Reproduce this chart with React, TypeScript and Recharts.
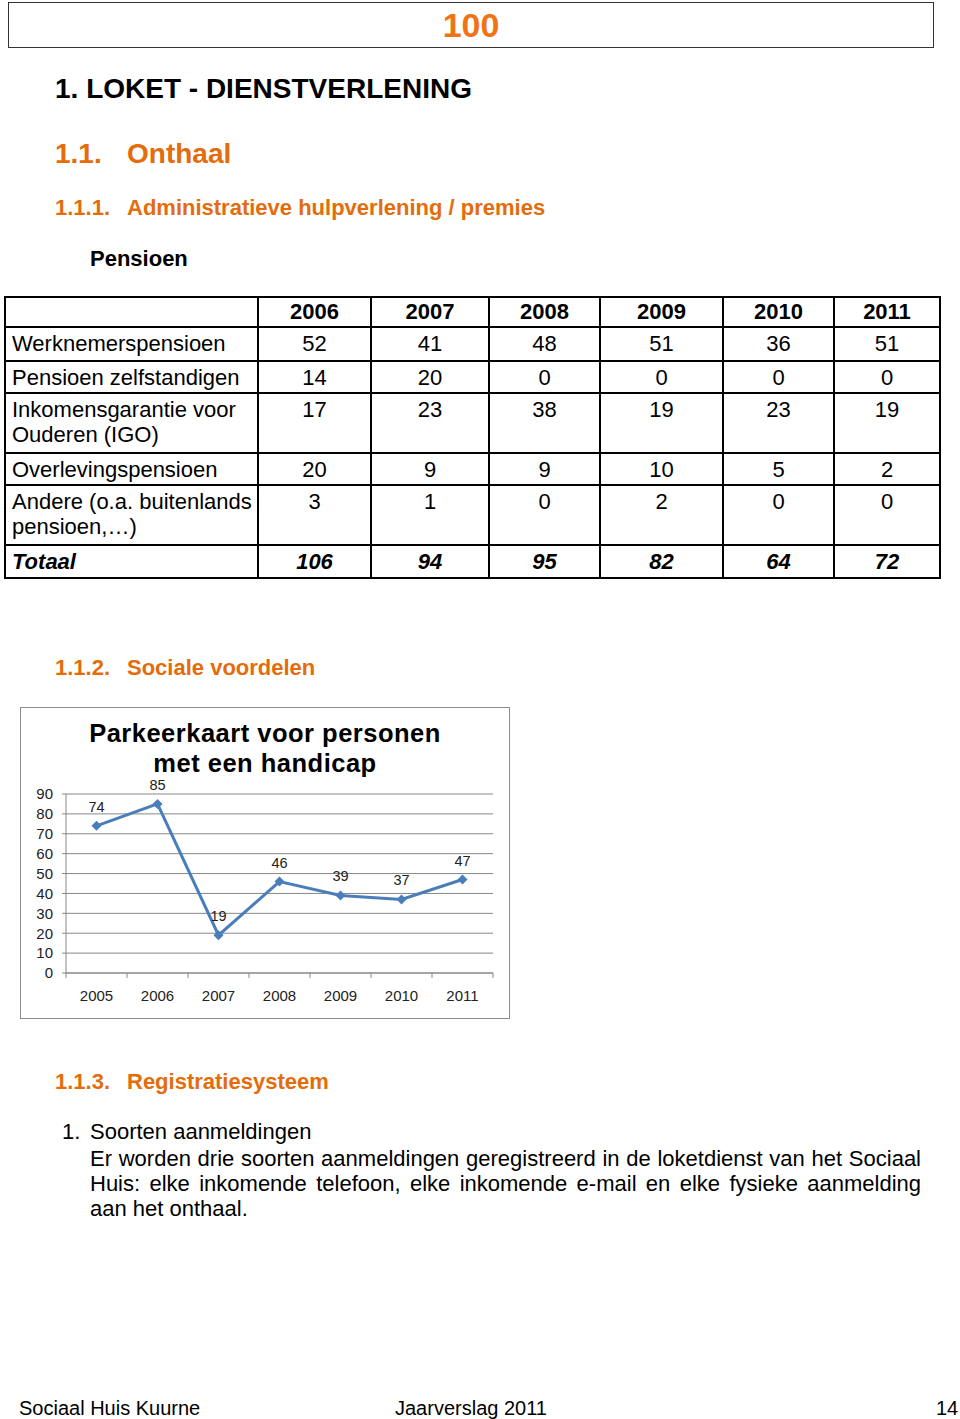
import React from "react";
import {
  CartesianGrid,
  LabelList,
  Line,
  LineChart,
  XAxis,
  YAxis,
} from "recharts";

// chart: Parkeerkaart voor personen met een handicap
const years = ["2005", "2006", "2007", "2008", "2009", "2010", "2011"];
const parkeerkaart = [74, 85, 19, 46, 39, 37, 47];
const yTicks = [0, 10, 20, 30, 40, 50, 60, 70, 80, 90];

// pensioen table
const tableYears = ["2006", "2007", "2008", "2009", "2010", "2011"];
const rowLabels = [
  ["Werknemerspensioen"],
  ["Pensioen zelfstandigen"],
  ["Inkomensgarantie voor", "Ouderen (IGO)"],
  ["Overlevingspensioen"],
  ["Andere (o.a. buitenlands", "pensioen,…)"],
];
const werknemers = [52, 41, 48, 51, 36, 51];
const zelfstandigen = [14, 20, 0, 0, 0, 0];
const igo = [17, 23, 38, 19, 23, 19];
const overleving = [20, 9, 9, 10, 5, 2];
const andere = [3, 1, 0, 2, 0, 0];
const totaal = [106, 94, 95, 82, 64, 72];

const FONT = '"Liberation Sans", Arial, sans-serif';
const ORANGE = "#E46C0A";
const BLUE = "#4A7EBB";
const GREY = "#878787";

const colX = [5, 258, 371, 489, 600, 723, 834, 940];
const rowY = [297, 327, 361, 393, 453, 485, 545, 578];

// half of one category band on the x axis (plot is 427px wide, 7 years)
const HALF_BAND = 30.5;

type TProps = {
  x: number;
  y: number;
  size: number;
  bold?: boolean;
  italic?: boolean;
  color?: string;
  children: React.ReactNode;
};

function T({ x, y, size, bold, italic, color, children }: TProps) {
  return (
    <div
      style={{
        position: "absolute",
        left: x,
        top: y - size * 0.6,
        fontSize: size,
        lineHeight: `${size * 1.2}px`,
        fontWeight: bold ? 700 : 400,
        fontStyle: italic ? "italic" : "normal",
        color: color ?? "#000",
        whiteSpace: "nowrap",
      }}
    >
      {children}
    </div>
  );
}

function Diamond(props: any) {
  const { cx, cy, index } = props;
  const r = 5;
  return (
    <path
      key={`d-${index}`}
      d={`M${cx},${cy - r}L${cx + r},${cy}L${cx},${cy + r}L${cx - r},${cy}Z`}
      fill={BLUE}
    />
  );
}

// year label plus small tick marks on the category boundaries
function YearTick(props: any) {
  const { x, y, payload, index, visibleTicksCount } = props;
  const axisY = y - 17;
  const last = index === visibleTicksCount - 1;
  return (
    <g>
      <line x1={x - HALF_BAND} x2={x - HALF_BAND} y1={axisY} y2={axisY + 5} stroke={GREY} />
      {last && <line x1={x + HALF_BAND} x2={x + HALF_BAND} y1={axisY} y2={axisY + 5} stroke={GREY} />}
      <text x={x} y={y} dy="0.71em" textAnchor="middle" fill="#222" fontSize={15}>
        {payload.value}
      </text>
    </g>
  );
}

function PensioenTable() {
  const rows = [werknemers, zelfstandigen, igo, overleving, andere];
  const top = rowY[0];
  const bottom = rowY[rowY.length - 1];
  const left = colX[0];
  const right = colX[colX.length - 1];
  return (
    <>
      {colX.map((x, i) => (
        <div
          key={`v${i}`}
          style={{ position: "absolute", left: x - 1, top: top - 1, width: 2, height: bottom - top + 2, background: "#000" }}
        />
      ))}
      {rowY.map((y, i) => (
        <div
          key={`h${i}`}
          style={{ position: "absolute", left: left - 1, top: y - 1, width: right - left + 2, height: 2, background: "#000" }}
        />
      ))}
      {tableYears.map((yr, c) => (
        <div
          key={`y${c}`}
          style={{
            position: "absolute",
            left: colX[c + 1],
            width: colX[c + 2] - colX[c + 1],
            top: rowY[0] + 2,
            lineHeight: "25px",
            fontSize: 22,
            fontWeight: 700,
            textAlign: "center",
          }}
        >
          {yr}
        </div>
      ))}
      {rows.map((vals, r) => (
        <React.Fragment key={`r${r}`}>
          <div
            style={{
              position: "absolute",
              left: colX[0] + 7,
              top: rowY[r + 1] + 4,
              lineHeight: "25px",
              fontSize: 22,
              whiteSpace: "nowrap",
            }}
          >
            {rowLabels[r].map((l, k) => (
              <div key={k}>{l}</div>
            ))}
          </div>
          {vals.map((v, c) => (
            <div
              key={`c${c}`}
              style={{
                position: "absolute",
                left: colX[c + 1],
                width: colX[c + 2] - colX[c + 1],
                top: rowY[r + 1] + 4,
                lineHeight: "25px",
                fontSize: 22,
                textAlign: "center",
              }}
            >
              {v}
            </div>
          ))}
        </React.Fragment>
      ))}
      <div
        style={{
          position: "absolute",
          left: colX[0] + 7,
          top: rowY[6] + 4,
          lineHeight: "25px",
          fontSize: 22,
          fontWeight: 700,
          fontStyle: "italic",
        }}
      >
        Totaal
      </div>
      {totaal.map((v, c) => (
        <div
          key={`t${c}`}
          style={{
            position: "absolute",
            left: colX[c + 1],
            width: colX[c + 2] - colX[c + 1],
            top: rowY[6] + 4,
            lineHeight: "25px",
            fontSize: 22,
            fontWeight: 700,
            fontStyle: "italic",
            textAlign: "center",
          }}
        >
          {v}
        </div>
      ))}
    </>
  );
}

function ParkeerChart() {
  const data = years.map((year, i) => ({ year, value: parkeerkaart[i] }));
  return (
    <div
      style={{
        position: "absolute",
        left: 20,
        top: 707,
        width: 488,
        height: 310,
        border: "1px solid #8c8c8c",
        background: "#fff",
      }}
    >
      <div
        style={{
          position: "absolute",
          left: 0,
          width: 488,
          top: 10,
          textAlign: "center",
          fontSize: 25.5,
          letterSpacing: 0.5,
          fontWeight: 700,
          lineHeight: "30px",
          color: "#000",
        }}
      >
        Parkeerkaart voor personen
        <br />
        met een handicap
      </div>
      <LineChart
        width={488}
        height={310}
        data={data}
        margin={{ top: 86, right: 16, bottom: 15, left: 5 }}
        style={{ position: "absolute", left: 0, top: 0 }}
      >
        <CartesianGrid vertical={false} stroke={GREY} />
        <XAxis
          dataKey="year"
          height={30}
          padding={{ left: HALF_BAND, right: HALF_BAND }}
          tickLine={false}
          tickSize={6}
          tickMargin={11}
          axisLine={{ stroke: GREY }}
          tick={YearTick}
          interval={0}
        />
        <YAxis
          width={40}
          domain={[0, 90]}
          ticks={yTicks}
          interval={0}
          tickSize={4}
          tickMargin={9}
          tickLine={{ stroke: GREY }}
          axisLine={{ stroke: GREY }}
          tick={{ fill: "#222", fontSize: 15 }}
        />
        <Line
          type="linear"
          dataKey="value"
          stroke={BLUE}
          strokeWidth={3}
          dot={Diamond}
          activeDot={false}
          isAnimationActive={false}
        >
          <LabelList dataKey="value" position="top" offset={14} fill="#222" fontSize={14.5} />
        </Line>
      </LineChart>
    </div>
  );
}

export default function App() {
  return (
    <div
      style={{
        position: "absolute",
        left: 0,
        top: 0,
        width: 960,
        height: 1419,
        background: "#fff",
        fontFamily: FONT,
        color: "#000",
        overflow: "hidden",
      }}
    >
      {/* header box */}
      <div
        style={{
          position: "absolute",
          left: 8,
          top: 2,
          width: 924,
          height: 44,
          border: "1.5px solid #333",
        }}
      />
      <div
        style={{
          position: "absolute",
          left: 8,
          width: 926,
          top: 25 - 20,
          lineHeight: "40px",
          fontSize: 34,
          fontWeight: 700,
          color: "#F07417",
          textAlign: "center",
        }}
      >
        100
      </div>

      <T x={55} y={89} size={28} bold>
        1. LOKET - DIENSTVERLENING
      </T>
      <T x={55} y={154} size={28} bold color={ORANGE}>1.1.</T>
      <T x={127} y={154} size={28} bold color={ORANGE}>Onthaal</T>
      <T x={55} y={208} size={22} bold color={ORANGE}>1.1.1.</T>
      <T x={127} y={208} size={22} bold color={ORANGE}>Administratieve hulpverlening / premies</T>
      <T x={90} y={259} size={22} bold>Pensioen</T>

      <PensioenTable />

      <T x={55} y={668} size={22} bold color={ORANGE}>1.1.2.</T>
      <T x={127} y={668} size={22} bold color={ORANGE}>Sociale voordelen</T>

      <ParkeerChart />

      <T x={55} y={1082} size={22} bold color={ORANGE}>1.1.3.</T>
      <T x={127} y={1082} size={22} bold color={ORANGE}>Registratiesysteem</T>

      <T x={62} y={1132} size={22}>1.</T>
      <T x={90} y={1132} size={22}>Soorten aanmeldingen</T>
      <div
        style={{
          position: "absolute",
          left: 90,
          top: 1158 - 12.5,
          width: 831,
          fontSize: 22,
          lineHeight: "25px",
          textAlign: "justify",
        }}
      >
        Er worden drie soorten aanmeldingen geregistreerd in de loketdienst van het Sociaal Huis: elke
        inkomende telefoon, elke inkomende e-mail en elke fysieke aanmelding aan het onthaal.
      </div>

      <T x={19} y={1408} size={20}>Sociaal Huis Kuurne</T>
      <T x={395} y={1408} size={20}>Jaarverslag 2011</T>
      <T x={936} y={1408} size={20}>14</T>
    </div>
  );
}
